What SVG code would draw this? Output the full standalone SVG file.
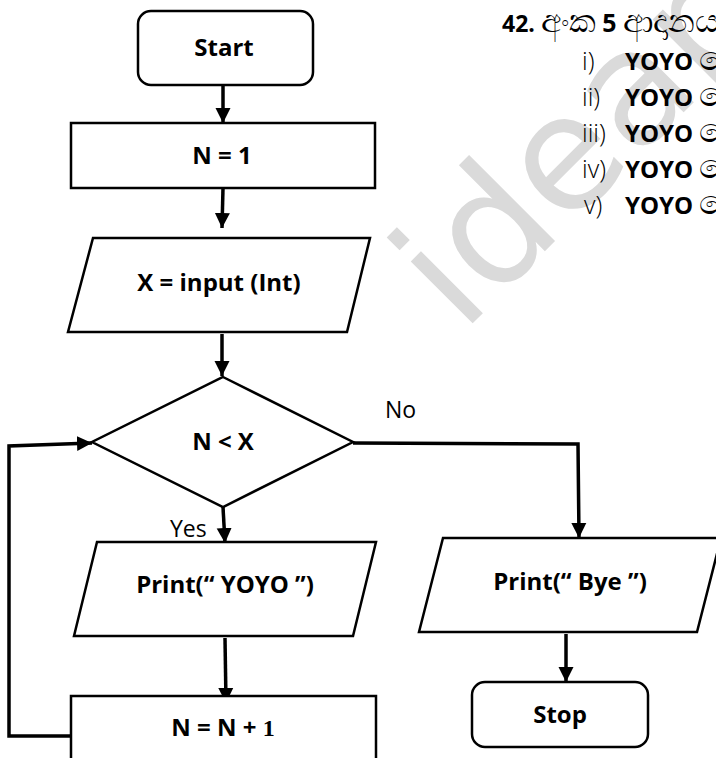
<svg xmlns="http://www.w3.org/2000/svg" width="716" height="758" viewBox="0 0 716 758">
<defs>
<style>
.shape{fill:#fff;stroke:#000;stroke-width:2.5}
.conn{fill:none;stroke:#000;stroke-width:3.5}
.lbl{font-family:"Open Sans","Liberation Sans",sans-serif;font-weight:700;font-size:24px;fill:#000;text-anchor:middle}
.edge{font-family:"Open Sans","Liberation Sans",sans-serif;font-size:23px;fill:#000}
.q{font-family:"Open Sans","Liberation Sans","Noto Sans",sans-serif;font-size:24px;fill:#000}
.num{font-family:"Open Sans","Liberation Sans",sans-serif;font-weight:300;font-size:25px;fill:#000}
.b{font-weight:700}
.si{font-size:33px;font-weight:400}
</style>
<marker id="ah" markerUnits="userSpaceOnUse" markerWidth="16" markerHeight="16" viewBox="0 0 16 16" refX="15" refY="8" orient="auto">
<path d="M0,0.5 L15,8 L0,15.5 Z" fill="#000"/>
</marker>
</defs>
<rect width="716" height="758" fill="#fff"/>
<text x="462" y="334" transform="rotate(-45 462 334)" font-family="'DejaVu Sans',sans-serif" font-size="160" fill="#dadada">ideap</text>
<g id="question">
<text x="502" y="32" class="q"><tspan class="b" font-size="23">42.</tspan>  <tspan class="si">අංක</tspan> <tspan class="b" font-size="25">5</tspan> <tspan class="si">ආදානය</tspan></text>
<text x="582" y="70" class="num">i)</text><text x="625" y="70" class="q b">YOYO <tspan class="si">ෙම</tspan></text>
<text x="582" y="106" class="num">ii)</text><text x="625" y="106" class="q b">YOYO <tspan class="si">ෙම</tspan></text>
<text x="582" y="142" class="num">iii)</text><text x="625" y="142" class="q b">YOYO <tspan class="si">ෙම</tspan></text>
<text x="582" y="178" class="num">iv)</text><text x="625" y="178" class="q b">YOYO <tspan class="si">ෙම</tspan></text>
<text x="584" y="214" class="num">v)</text><text x="625" y="214" class="q b">YOYO <tspan class="si">ෙම</tspan></text>
</g>
<g id="connectors">
<line class="conn" x1="223" y1="85" x2="223" y2="123" marker-end="url(#ah)"/>
<line class="conn" x1="223" y1="188" x2="222" y2="228" marker-end="url(#ah)"/>
<line class="conn" x1="222" y1="334" x2="222" y2="376" marker-end="url(#ah)"/>
<line class="conn" x1="223" y1="507" x2="225" y2="543" marker-end="url(#ah)"/>
<line class="conn" x1="225" y1="638" x2="226" y2="703" marker-end="url(#ah)"/>
<polyline class="conn" points="71,736 9,736 9,446 92,443" stroke-width="4.5" marker-end="url(#ah)"/>
<polyline class="conn" points="353,443 578,444 579,538" marker-end="url(#ah)"/>
<line class="conn" x1="566" y1="634" x2="566" y2="682" marker-end="url(#ah)"/>
<text x="385" y="418" class="edge">No</text>
<text x="170" y="537" class="edge">Yes</text>
</g>
<g id="start">
<rect class="shape" x="138" y="11" width="175" height="74" rx="13"/>
<text x="224" y="56" class="lbl">Start</text>
</g>
<g id="n1">
<rect class="shape" x="71" y="123" width="304" height="65"/>
<text x="222" y="164" class="lbl">N = 1</text>
</g>
<g id="input">
<polygon class="shape" points="93,238 370,238 347,332 68,332"/>
<text x="219" y="291" class="lbl">X = input (Int)</text>
</g>
<g id="decision">
<polygon class="shape" points="223,377 353,442 223,507 92,442"/>
<text x="223" y="450" class="lbl">N &lt; X</text>
</g>
<g id="printYoyo">
<polygon class="shape" points="97,542 376,542 353,636 74,636"/>
<text x="225" y="593" class="lbl">Print(“ YOYO ”)</text>
</g>
<g id="inc">
<rect class="shape" x="71" y="696" width="305" height="80"/>
<text x="223" y="736" class="lbl">N = N + <tspan font-family="'Liberation Serif',serif">1</tspan></text>
</g>
<g id="printBye">
<polygon class="shape" points="443,538 721,538 697,632 419,632"/>
<text x="570" y="590" class="lbl">Print(“ Bye ”)</text>
</g>
<g id="stop">
<rect class="shape" x="472" y="682" width="176" height="65" rx="13"/>
<text x="560" y="723" class="lbl">Stop</text>
</g>
</svg>
